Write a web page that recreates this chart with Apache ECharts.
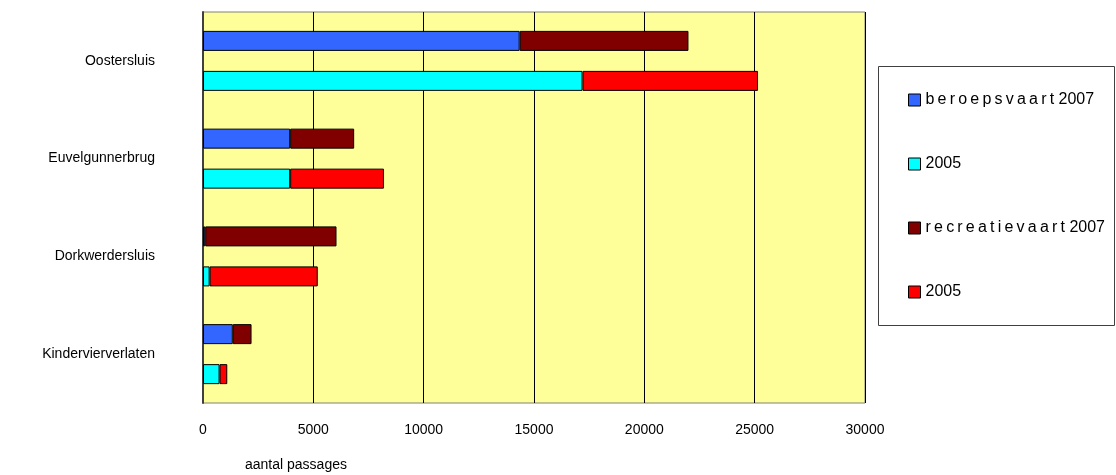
<!DOCTYPE html>
<html><head><meta charset="utf-8">
<script src="https://cdn.jsdelivr.net/npm/echarts@6/dist/echarts.min.js"></script>
<style>html,body{margin:0;padding:0;background:#fff}#c{width:1116px;height:475px}</style>
</head><body><div id="c"></div>
<script>
const categories = ['Oostersluis', 'Euvelgunnerbrug', 'Dorkwerdersluis', 'Kindervierverlaten'];
const beroeps2007 = [14350, 3950, 100, 1350];
const beroeps2005 = [17200, 3950, 300, 750];
const recreatie2007 = [7650, 2900, 5950, 850];
const recreatie2005 = [7950, 4250, 4900, 350];
const xTicks = { min: 0, max: 30000, interval: 5000 };
const T = '\u2009';
const legendLabels = {
  'beroepsvaart 2007': 'beroepsvaart'.split('').join(T) + ' 2007',
  'beroepsvaart 2005': '2005',
  'recreatievaart 2007': 'recreatievaart'.split('').join(T) + ' 2007',
  'recreatievaart 2005': '2005'
};

const chart = echarts.init(document.getElementById('c'));
const barStyle = c => ({ color: c, borderColor: '#000', borderWidth: 1 });
chart.setOption({
  animation: false,
  textStyle: { fontFamily: 'Liberation Sans, Arial, sans-serif' },
  grid: { left: 203, top: 12, right: 251, bottom: 72, show: true, backgroundColor: '#FFFF99', borderColor: '#808080', borderWidth: 1 },
  xAxis: {
    type: 'value', min: xTicks.min, max: xTicks.max, interval: xTicks.interval,
    axisLine: { show: false }, axisTick: { show: false },
    splitLine: { show: true, lineStyle: { color: '#000', width: 1 } },
    axisLabel: { color: '#000', fontSize: 14, margin: 20, formatter: v => String(v) }
  },
  yAxis: {
    type: 'category', data: categories, inverse: true,
    axisLine: { show: true, lineStyle: { color: '#404040', width: 2 } },
    axisTick: { show: false },
    axisLabel: { color: '#000', fontSize: 14, margin: 48, padding: [0, 0, 5, 0] }
  },
  legend: {
    orient: 'vertical', left: 903, top: 87, itemWidth: 12, itemHeight: 12, itemGap: 48,
    icon: 'rect',
    data: ['beroepsvaart 2007', 'beroepsvaart 2005', 'recreatievaart 2007', 'recreatievaart 2005'],
    formatter: n => legendLabels[n],
    itemStyle: { borderColor: '#000', borderWidth: 1 },
    textStyle: { color: '#000', fontSize: 16, lineHeight: 14 }
  },
  graphic: [
    { type: 'rect', shape: { x: 878.5, y: 66.5, width: 236, height: 259 }, style: { fill: 'none', stroke: '#404040', lineWidth: 1 } },
    { type: 'text', left: 245, top: 458, style: { text: 'aantal passages', fill: '#000', fontSize: 14 } }
  ],
  series: [
    { name: 'beroepsvaart 2007', type: 'bar', stack: 'y2007', data: beroeps2007, barWidth: 20, barGap: '100%', itemStyle: barStyle('#3366FF') },
    { name: 'beroepsvaart 2005', type: 'bar', stack: 'y2005', data: beroeps2005, barWidth: 20, barGap: '100%', itemStyle: barStyle('#00FFFF') },
    { name: 'recreatievaart 2007', type: 'bar', stack: 'y2007', data: recreatie2007, barWidth: 20, barGap: '100%', itemStyle: barStyle('#800000') },
    { name: 'recreatievaart 2005', type: 'bar', stack: 'y2005', data: recreatie2005, barWidth: 20, barGap: '100%', itemStyle: barStyle('#FF0000') }
  ]
});
</script></body></html>
